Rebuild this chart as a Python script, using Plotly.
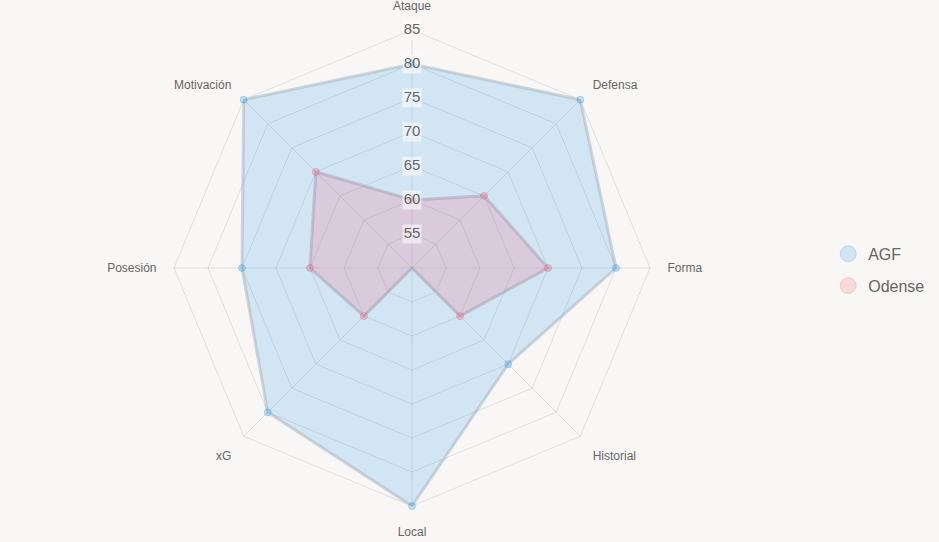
import plotly.graph_objects as go

categories = ["Ataque", "Defensa", "Forma", "Historial", "Local", "xG", "Posesión", "Motivación"]
agf = [80, 85, 80, 70, 85, 80, 75, 85]
odense = [60, 65, 70, 60, 50, 60, 65, 70]
tick_vals = [55, 60, 65, 70, 75, 80, 85]
tick_text = ["55", "60", "65", "70", "75", "80", "85"]

fig = go.Figure()

def closed(v):
    return v + v[:1]

fig.add_trace(go.Scatterpolar(
    r=closed(agf), theta=closed(categories), fill="toself",
    fillcolor="rgba(54,162,235,0.2)", mode="lines+markers",
    line=dict(color="rgba(160,170,180,0.45)", width=3),
    marker=dict(size=7, color="rgba(54,162,235,0.3)", line=dict(color="rgba(54,162,235,0.35)", width=1)),
    showlegend=False, name="AGF", hoverinfo="skip"))
fig.add_trace(go.Scatterpolar(
    r=closed(odense), theta=closed(categories), fill="toself",
    fillcolor="rgba(255,99,132,0.2)", mode="lines+markers",
    line=dict(color="rgba(160,150,170,0.45)", width=3),
    marker=dict(size=7, color="rgba(255,99,132,0.3)", line=dict(color="rgba(200,99,132,0.35)", width=1)),
    showlegend=False, name="Odense", hoverinfo="skip"))

# radial tick labels with light background boxes
fig.add_trace(go.Scatterpolar(
    r=tick_vals, theta=[categories[0]] * len(tick_vals), mode="markers+text",
    text=tick_text, textposition="middle center",
    textfont=dict(size=15, color="#666666", family="Arial, Liberation Sans, sans-serif"),
    marker=dict(symbol="square", size=19, color="rgba(255,255,255,0.55)", line=dict(width=0)),
    showlegend=False, hoverinfo="skip"))

# invisible trace carrying the category labels on the outer (label) polar
fig.add_trace(go.Scatterpolar(
    r=[None] * len(categories), theta=categories, mode="markers", subplot="polar2",
    showlegend=False, hoverinfo="skip"))

# legend entries
fig.add_trace(go.Scatterpolar(r=[None], theta=[categories[0]], mode="markers", name="AGF",
    legendgroup="a",
    marker=dict(size=16, color="rgba(54,162,235,0.2)", line=dict(color="rgba(54,162,235,0.25)", width=1))))
fig.add_trace(go.Scatterpolar(r=[None], theta=[categories[0]], mode="markers", name="Odense",
    legendgroup="b",
    marker=dict(size=16, color="rgba(255,99,132,0.2)", line=dict(color="rgba(255,99,132,0.25)", width=1))))

fig.update_layout(
    width=939, height=542,
    paper_bgcolor="#f8f7f5", plot_bgcolor="#f8f7f5",
    margin=dict(l=0, r=0, t=0, b=0),
    font=dict(family="Arial, Liberation Sans, sans-serif", color="#666666"),
    polar=dict(
        domain=dict(x=[174/939, 650/939], y=[36/542, 512/542]),
        bgcolor="rgba(0,0,0,0)",
        gridshape="linear",
        radialaxis=dict(range=[50, 85], tickvals=tick_vals, showticklabels=False,
                        showline=False, ticks="", gridcolor="rgba(0,0,0,0.1)", gridwidth=1),
        angularaxis=dict(rotation=90, direction="clockwise", ticks="", showticklabels=False,
                         categoryorder="array", categoryarray=categories,
                         gridcolor="rgba(0,0,0,0.1)", linecolor="rgba(0,0,0,0.1)", linewidth=1),
    ),
    polar2=dict(
        domain=dict(x=[157/939, 667/939], y=[19/542, 529/542]),
        bgcolor="rgba(0,0,0,0)",
        gridshape="linear",
        radialaxis=dict(visible=False, range=[0, 1]),
        angularaxis=dict(rotation=90, direction="clockwise", ticks="", showgrid=False,
                         showline=False, categoryorder="array", categoryarray=categories,
                         tickfont=dict(size=12, color="#666666")),
    ),
    legend=dict(x=0.882, y=0.502, xanchor="left", yanchor="middle",
                font=dict(size=16, color="#666666"), bgcolor="rgba(0,0,0,0)",
                itemsizing="trace", tracegroupgap=8),
)

fig.write_html("out.html")
